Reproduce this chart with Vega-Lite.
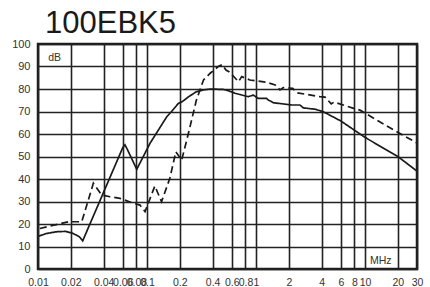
{
  "$schema": "https://vega.github.io/schema/vega-lite/v6.json",
  "width": 379,
  "height": 225,
  "autosize": {"type": "none"},
  "padding": {"left": 38, "top": 44, "right": 13, "bottom": 18},
  "background": "white",
  "title": {
    "text": "100EBK5",
    "anchor": "start",
    "frame": "group",
    "fontSize": 31,
    "font": "Liberation Sans",
    "fontWeight": "normal",
    "color": "#1a1a1a",
    "dx": 7,
    "dy": 32,
    "offset": 6,
    "baseline": "alphabetic"
  },
  "config": {
    "view": {"stroke": "#1e1e1e", "strokeWidth": 2.5},
    "axis": {"labelFont": "Liberation Sans", "labelColor": "#333333", "domain": false, "ticks": false, "gridColor": "#222222", "gridWidth": 1.6, "gridOpacity": 1, "labelOverlap": false}
  },
  "encoding": {
    "x": {
      "field": "f", "type": "quantitative",
      "scale": {"type": "log", "domain": [0.01, 30], "nice": false},
      "axis": {"title": null, "values": [0.01, 0.02, 0.04, 0.06, 0.08, 0.1, 0.2, 0.4, 0.6, 0.8, 1, 2, 4, 6, 8, 10, 20, 30], "format": "~g", "labelFlush": false, "labelPadding": 8, "labelFontSize": 10.5}
    },
    "y": {
      "field": "db", "type": "quantitative",
      "scale": {"domain": [0, 100], "nice": false},
      "axis": {"title": null, "values": [0, 10, 20, 30, 40, 50, 60, 70, 80, 90, 100], "labelPadding": 8, "labelFontSize": 11}
    }
  },
  "layer": [
    {
      "data": {
        "values": [
          {"f": 0.01, "db": 14.5, "s": "solid"},
          {"f": 0.012, "db": 15.8, "s": "solid"},
          {"f": 0.015, "db": 16.6, "s": "solid"},
          {"f": 0.018, "db": 16.7, "s": "solid"},
          {"f": 0.021, "db": 15.8, "s": "solid"},
          {"f": 0.024, "db": 14.3, "s": "solid"},
          {"f": 0.0257, "db": 12.5, "s": "solid"},
          {"f": 0.06, "db": 54.0, "s": "solid"},
          {"f": 0.0628, "db": 55.2, "s": "solid"},
          {"f": 0.067, "db": 52.5, "s": "solid"},
          {"f": 0.0805, "db": 44.3, "s": "solid"},
          {"f": 0.107, "db": 56.0, "s": "solid"},
          {"f": 0.152, "db": 67.7, "s": "solid"},
          {"f": 0.168, "db": 70.0, "s": "solid"},
          {"f": 0.194, "db": 73.6, "s": "solid"},
          {"f": 0.208, "db": 74.2, "s": "solid"},
          {"f": 0.24, "db": 76.5, "s": "solid"},
          {"f": 0.284, "db": 78.8, "s": "solid"},
          {"f": 0.33, "db": 79.6, "s": "solid"},
          {"f": 0.38, "db": 80.0, "s": "solid"},
          {"f": 0.5, "db": 79.8, "s": "solid"},
          {"f": 0.553, "db": 79.3, "s": "solid"},
          {"f": 0.642, "db": 78.1, "s": "solid"},
          {"f": 0.72, "db": 77.5, "s": "solid"},
          {"f": 0.849, "db": 76.6, "s": "solid"},
          {"f": 0.945, "db": 77.3, "s": "solid"},
          {"f": 1.05, "db": 75.8, "s": "solid"},
          {"f": 1.25, "db": 75.8, "s": "solid"},
          {"f": 1.3, "db": 75.1, "s": "solid"},
          {"f": 1.44, "db": 73.9, "s": "solid"},
          {"f": 2.13, "db": 72.9, "s": "solid"},
          {"f": 2.53, "db": 72.9, "s": "solid"},
          {"f": 2.72, "db": 71.6, "s": "solid"},
          {"f": 3.5, "db": 71.0, "s": "solid"},
          {"f": 4.14, "db": 69.9, "s": "solid"},
          {"f": 6, "db": 65.8, "s": "solid"},
          {"f": 10, "db": 58.5, "s": "solid"},
          {"f": 20, "db": 50.0, "s": "solid"},
          {"f": 30, "db": 43.5, "s": "solid"},
          {"f": 0.0104, "db": 18.0, "s": "dashed"},
          {"f": 0.019, "db": 21.0, "s": "dashed"},
          {"f": 0.0252, "db": 21.0, "s": "dashed"},
          {"f": 0.0322, "db": 38.1, "s": "dashed"},
          {"f": 0.0384, "db": 32.9, "s": "dashed"},
          {"f": 0.0458, "db": 32.1, "s": "dashed"},
          {"f": 0.0565, "db": 31.4, "s": "dashed"},
          {"f": 0.075, "db": 29.2, "s": "dashed"},
          {"f": 0.0862, "db": 28.4, "s": "dashed"},
          {"f": 0.096, "db": 25.5, "s": "dashed"},
          {"f": 0.118, "db": 36.9, "s": "dashed"},
          {"f": 0.136, "db": 29.9, "s": "dashed"},
          {"f": 0.162, "db": 40.3, "s": "dashed"},
          {"f": 0.184, "db": 52.1, "s": "dashed"},
          {"f": 0.208, "db": 48.4, "s": "dashed"},
          {"f": 0.24, "db": 60.3, "s": "dashed"},
          {"f": 0.284, "db": 75.1, "s": "dashed"},
          {"f": 0.33, "db": 84.0, "s": "dashed"},
          {"f": 0.38, "db": 87.0, "s": "dashed"},
          {"f": 0.45, "db": 90.0, "s": "dashed"},
          {"f": 0.49, "db": 90.8, "s": "dashed"},
          {"f": 0.53, "db": 88.4, "s": "dashed"},
          {"f": 0.565, "db": 87.7, "s": "dashed"},
          {"f": 0.64, "db": 85.0, "s": "dashed"},
          {"f": 0.69, "db": 83.2, "s": "dashed"},
          {"f": 0.74, "db": 85.5, "s": "dashed"},
          {"f": 0.88, "db": 84.0, "s": "dashed"},
          {"f": 1.25, "db": 83.0, "s": "dashed"},
          {"f": 1.5, "db": 81.8, "s": "dashed"},
          {"f": 1.66, "db": 79.6, "s": "dashed"},
          {"f": 1.78, "db": 80.6, "s": "dashed"},
          {"f": 2.17, "db": 80.3, "s": "dashed"},
          {"f": 2.38, "db": 78.3, "s": "dashed"},
          {"f": 3.85, "db": 76.6, "s": "dashed"},
          {"f": 4.3, "db": 76.4, "s": "dashed"},
          {"f": 4.9, "db": 73.4, "s": "dashed"},
          {"f": 5.2, "db": 74.2, "s": "dashed"},
          {"f": 8.1, "db": 71.2, "s": "dashed"},
          {"f": 9.0, "db": 70.6, "s": "dashed"},
          {"f": 18.3, "db": 61.8, "s": "dashed"},
          {"f": 30, "db": 56.0, "s": "dashed"}
        ]
      },
      "mark": {"type": "line", "color": "#1a1a1a", "strokeWidth": 1.7, "clip": true},
      "encoding": {
        "detail": {"field": "s"},
        "strokeDash": {
          "field": "s", "type": "nominal",
          "scale": {"domain": ["solid", "dashed"], "range": [[1, 0], [7, 4]]},
          "legend": null
        }
      }
    },
    {
      "data": {"values": [{"label": "dB", "f": 0.0124, "db": 94}, {"label": "MHz", "f": 11.1, "db": 3.6}]},
      "mark": {"type": "text", "align": "left", "baseline": "middle", "fontSize": 10.5, "font": "Liberation Sans", "color": "#333333"},
      "encoding": {
        "text": {"field": "label"}
      }
    }
  ]
}
